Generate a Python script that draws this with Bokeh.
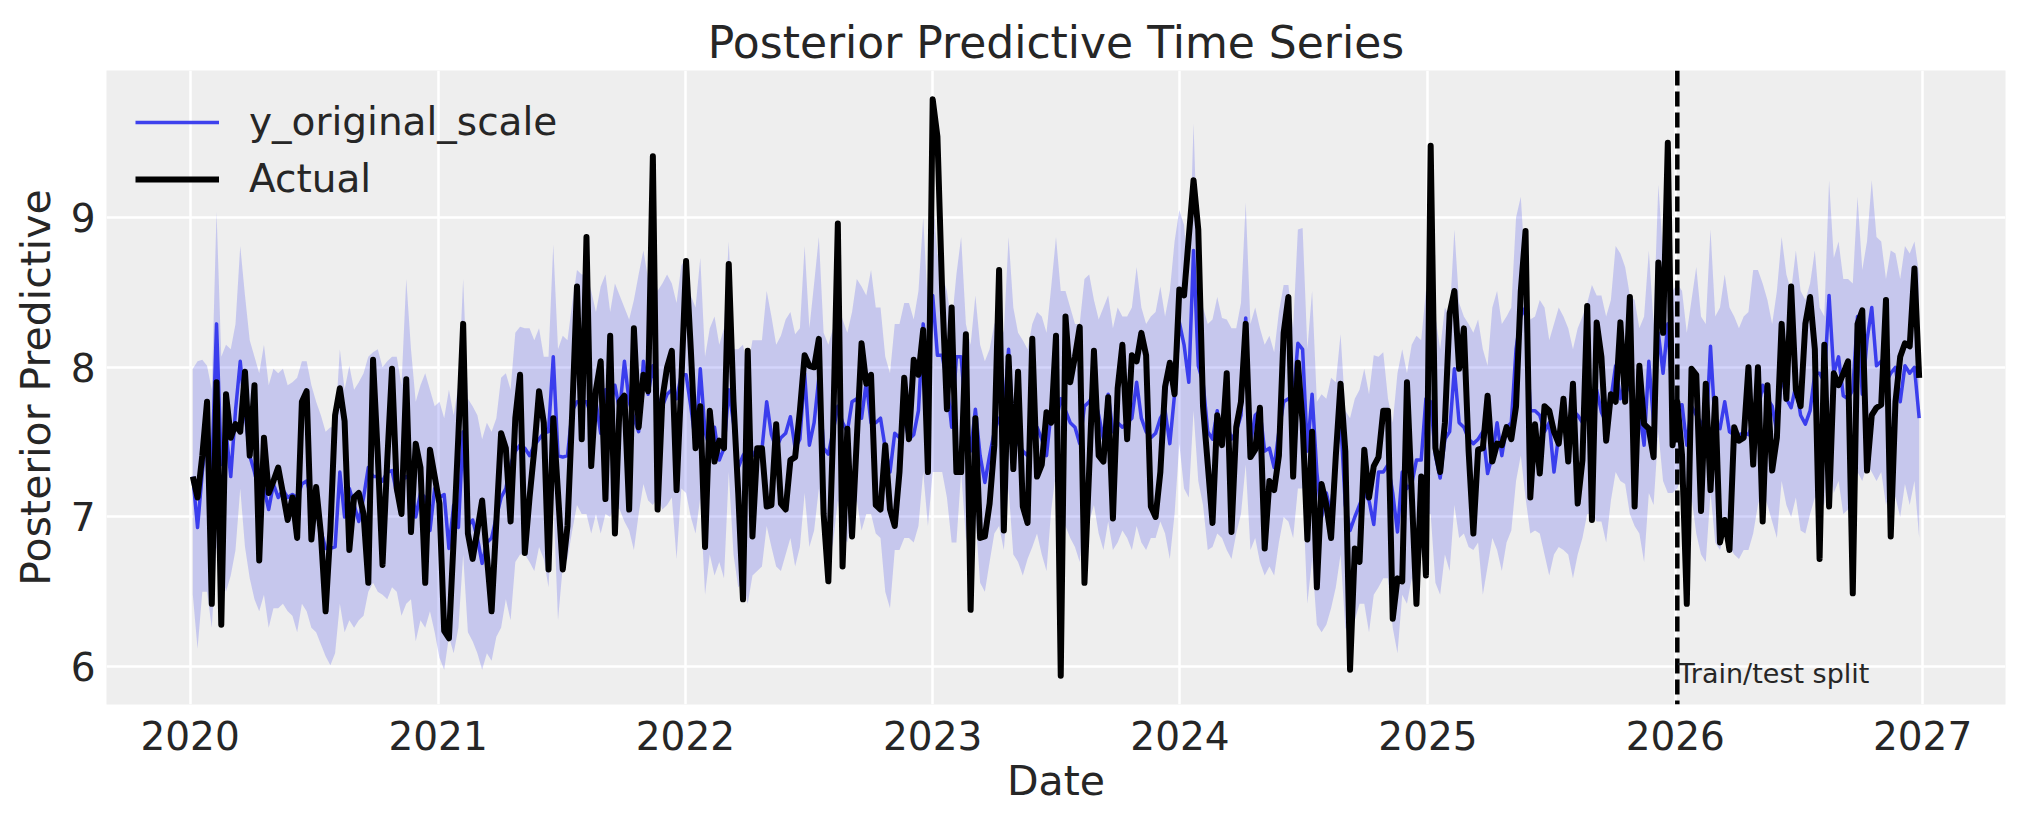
import pandas as pd
from bokeh.plotting import figure
from bokeh.models import (ColumnDataSource, Range1d, FixedTicker, DatetimeTickFormatter,
                          Span, Label, Legend, LegendItem)
from bokeh.embed import file_html
from bokeh.resources import INLINE

# ---------------- data ----------------
start_date = "2020-01-05"          # weekly observations (Sundays)
split_date = "2026-01-04"          # train / test split
year_ticks = [2020, 2021, 2022, 2023, 2024, 2025, 2026, 2027]
y_ticks = [6, 7, 8, 9]

actual = [
    # 2020
    7.27, 7.13, 7.41, 7.77, 6.42, 7.90, 6.28, 7.82, 7.53, 7.62, 7.57, 7.97, 7.41, 7.88, 6.71, 7.53, 7.16, 7.24,
    7.33, 7.16, 6.98, 7.13, 6.86, 7.77, 7.84, 6.85, 7.20, 6.89, 6.37, 6.91, 7.68, 7.86, 7.64, 6.78, 7.13, 7.16,
    7.02, 6.56, 8.05, 7.41, 6.68, 7.38, 7.99, 7.19, 7.02, 7.92, 6.90, 7.49, 7.33, 6.56, 7.45, 7.27,
    # 2021
    7.09, 6.24, 6.19, 6.85, 7.55, 8.29, 6.89, 6.72, 6.91, 7.11, 6.74, 6.37, 6.97, 7.56, 7.46, 6.97, 7.66, 7.95,
    6.76, 7.13, 7.45, 7.84, 7.63, 6.65, 7.66, 7.16, 6.65, 6.94, 7.70, 8.54, 7.52, 8.87, 7.34, 7.85, 8.04, 7.12,
    8.21, 6.89, 7.77, 7.81, 7.05, 8.26, 7.60, 7.95, 7.84, 9.41, 7.05, 7.79, 8.00, 8.11, 7.18, 7.90,
    # 2022
    8.71, 8.12, 7.46, 7.74, 6.80, 7.71, 7.37, 7.51, 7.46, 8.69, 7.77, 7.16, 6.45, 8.11, 6.87, 7.46, 7.46, 7.07,
    7.08, 7.62, 7.09, 7.05, 7.38, 7.40, 7.71, 8.08, 8.01, 8.00, 8.19, 7.02, 6.57, 7.57, 8.96, 6.67, 7.59, 6.87,
    7.52, 8.16, 7.89, 7.95, 7.08, 7.05, 7.48, 7.05, 6.94, 7.30, 7.93, 7.52, 8.05, 7.95, 8.25, 7.30,
    # 2023
    9.79, 9.54, 8.50, 7.72, 8.40, 7.30, 7.30, 8.22, 6.38, 7.66, 6.86, 6.87, 7.09, 7.48, 8.65, 6.91, 8.07, 7.32,
    7.97, 7.07, 6.96, 8.19, 7.27, 7.35, 7.70, 7.63, 8.21, 5.94, 8.34, 7.90, 8.07, 8.27, 6.56, 7.32, 8.11, 7.41,
    7.37, 7.80, 6.99, 7.86, 8.15, 7.52, 8.08, 8.04, 8.23, 8.08, 7.07, 7.00, 7.30, 7.87, 8.03, 7.82, 8.52,
    # 2024
    8.48, 8.87, 9.25, 8.92, 7.74, 7.35, 6.96, 7.68, 7.48, 7.96, 6.90, 7.60, 7.77, 8.29, 7.40, 7.45, 7.73, 6.79,
    7.24, 7.18, 7.41, 8.23, 8.47, 7.27, 8.03, 7.63, 6.85, 7.57, 6.53, 7.22, 7.08, 6.86, 7.41, 7.89, 7.44, 5.98,
    6.79, 6.70, 7.45, 7.13, 7.34, 7.40, 7.71, 7.71, 6.32, 6.59, 6.57, 7.90, 7.16, 6.42, 7.27, 6.61,
    # 2025
    9.48, 7.46, 7.30, 7.63, 8.36, 8.51, 7.99, 8.26, 7.44, 6.89, 7.45, 7.46, 7.81, 7.37, 7.49, 7.48, 7.60, 7.52,
    7.74, 8.51, 8.91, 7.13, 7.62, 7.29, 7.74, 7.71, 7.57, 7.49, 7.79, 7.37, 7.89, 7.09, 7.38, 8.41, 6.98, 8.30,
    8.07, 7.51, 7.82, 7.77, 8.30, 7.77, 8.47, 7.07, 8.01, 7.62, 7.59, 7.40, 8.70, 8.23, 9.50, 7.48,
    # 2026
    7.77, 7.41, 6.42, 7.99, 7.95, 7.04, 7.89, 7.18, 7.79, 6.83, 6.98, 6.78, 7.60, 7.51, 7.53, 8.00, 7.35, 8.00,
    6.97, 7.88, 7.31, 7.53, 8.29, 7.79, 8.54, 7.85, 7.74, 8.29, 8.47, 8.12, 6.72, 8.15, 7.07, 7.96, 7.88, 7.96,
    8.04, 6.49, 8.29, 8.38, 7.31, 7.68, 7.73, 7.75, 8.45, 6.87, 7.77, 8.07, 8.16, 8.14, 8.66, 7.93,
]

pred_mean = [
    # 2020
    7.27, 6.93, 7.30, 7.57, 7.30, 8.29, 7.35, 7.57, 7.27, 7.71, 8.04, 7.71, 7.41, 7.30, 7.16, 7.19, 7.05, 7.22,
    7.13, 7.18, 7.13, 7.15, 7.13, 7.22, 7.24, 7.13, 7.05, 6.91, 6.79, 6.79, 6.80, 7.30, 7.00, 7.19, 7.08, 6.97,
    7.13, 7.33, 7.27, 7.27, 7.24, 7.30, 7.31, 7.16, 7.24, 7.27, 7.24, 7.00, 7.16, 7.13, 6.91, 7.19,
    # 2021
    7.13, 7.15, 6.79, 7.08, 6.93, 7.57, 6.94, 6.98, 6.86, 6.69, 6.83, 6.86, 7.00, 7.13, 7.19, 7.35, 7.44, 7.48,
    7.46, 7.41, 7.48, 7.52, 7.56, 7.57, 8.07, 7.41, 7.40, 7.41, 7.71, 7.77, 7.77, 7.77, 7.68, 7.77, 7.56, 7.85,
    7.74, 7.88, 7.71, 8.04, 7.77, 7.66, 7.57, 8.04, 7.82, 8.01, 7.79, 7.74, 7.82, 7.85, 7.79, 7.95,
    # 2022
    7.95, 7.74, 7.49, 7.99, 7.57, 7.46, 7.60, 7.38, 7.46, 7.85, 7.63, 7.33, 7.41, 7.46, 7.41, 7.46, 7.45, 7.77,
    7.55, 7.46, 7.53, 7.56, 7.67, 7.46, 7.52, 7.96, 7.48, 7.63, 7.93, 7.46, 7.42, 7.57, 7.74, 7.63, 7.57, 7.77,
    7.79, 7.66, 7.90, 7.63, 7.63, 7.66, 7.46, 7.30, 7.56, 7.53, 7.66, 7.52, 7.55, 7.71, 8.29, 7.90,
    # 2023
    8.48, 8.08, 8.08, 7.90, 7.60, 8.07, 8.07, 7.66, 7.44, 7.72, 7.41, 7.23, 7.41, 7.57, 7.66, 7.68, 8.12, 7.57,
    7.49, 7.44, 7.41, 7.57, 7.60, 7.52, 7.41, 7.71, 7.63, 7.79, 7.71, 7.63, 7.60, 7.49, 7.74, 7.77, 7.82, 7.68,
    7.52, 7.82, 7.57, 7.63, 7.60, 7.63, 7.66, 7.90, 7.66, 7.57, 7.53, 7.56, 7.66, 7.71, 7.49, 7.82, 8.30,
    # 2024
    8.15, 7.90, 8.78, 8.01, 7.90, 7.57, 7.52, 7.71, 7.49, 7.63, 7.52, 7.57, 7.68, 8.33, 7.49, 7.68, 7.71, 7.44,
    7.46, 7.33, 7.57, 7.77, 7.79, 7.77, 8.16, 8.12, 7.44, 7.82, 7.30, 7.00, 7.16, 7.02, 7.41, 7.66, 7.08, 6.91,
    7.00, 7.08, 7.16, 7.11, 6.95, 7.30, 7.30, 7.35, 7.16, 6.90, 7.30, 7.19, 7.22, 7.38, 7.38, 7.79,
    # 2025
    7.77, 7.41, 7.26, 7.52, 7.57, 7.99, 7.63, 7.60, 7.52, 7.49, 7.52, 7.57, 7.29, 7.41, 7.63, 7.41, 7.60, 7.63,
    8.12, 8.34, 8.40, 7.71, 7.71, 7.68, 7.57, 7.63, 7.30, 7.55, 7.63, 7.63, 7.71, 7.68, 7.63, 7.66, 7.79, 7.85,
    7.70, 7.63, 7.79, 8.01, 7.79, 7.90, 7.85, 7.77, 7.71, 7.48, 8.04, 7.63, 8.23, 7.96, 8.29, 7.77,
    # 2026
    7.74, 7.75, 7.48, 7.74, 7.68, 7.63, 7.52, 8.14, 7.60, 7.59, 7.77, 7.57, 7.55, 7.55, 7.56, 7.55, 7.63, 7.71,
    7.88, 7.79, 7.74, 7.57, 7.96, 7.79, 7.73, 7.88, 7.68, 7.62, 7.71, 7.96, 7.96, 7.90, 8.48, 7.96, 8.07, 7.81,
    7.79, 7.85, 8.34, 7.82, 8.18, 8.40, 8.01, 8.04, 7.90, 7.96, 8.00, 7.77, 8.01, 7.96, 8.00, 7.66,
]

hdi_high = [
    # 2020
    7.99, 8.04, 8.05, 8.01, 7.85, 9.04, 8.07, 8.15, 8.12, 8.29, 8.81, 8.48, 8.18, 8.07, 7.96, 8.15, 7.88, 7.99,
    7.96, 7.99, 7.88, 7.90, 7.93, 8.04, 8.04, 7.88, 7.77, 7.68, 7.57, 7.60, 7.60, 8.12, 7.85, 8.01, 7.85, 7.90,
    7.96, 8.07, 8.10, 8.12, 8.00, 8.04, 8.07, 8.07, 7.88, 8.59, 8.12, 7.77, 7.88, 7.96, 7.85, 7.74,
    # 2021
    7.77, 7.66, 7.85, 7.68, 7.88, 8.59, 7.79, 7.74, 7.68, 7.52, 7.63, 7.57, 7.66, 7.93, 7.96, 7.85, 8.23, 8.27,
    8.26, 8.26, 8.18, 8.26, 8.07, 8.07, 8.82, 8.12, 8.21, 8.18, 8.43, 8.65, 8.62, 8.62, 8.51, 8.37, 8.54, 8.62,
    8.37, 8.56, 8.48, 8.40, 8.32, 8.45, 8.62, 8.78, 8.59, 8.70, 8.51, 8.56, 8.62, 8.56, 8.43, 8.68,
    # 2022
    8.73, 8.48, 8.40, 8.73, 8.07, 8.26, 8.34, 8.15, 8.26, 8.84, 8.12, 8.12, 8.15, 7.99, 8.18, 8.18, 8.18, 8.51,
    8.34, 8.15, 8.21, 8.32, 8.37, 8.22, 8.26, 8.81, 8.26, 8.56, 8.87, 8.23, 8.15, 8.26, 8.43, 8.32, 8.23, 8.37,
    8.59, 8.54, 8.48, 8.65, 8.40, 8.40, 8.07, 7.96, 8.29, 8.29, 8.43, 8.43, 8.32, 8.51, 9.00, 8.40,
    # 2023
    9.14, 8.76, 8.62, 8.51, 8.29, 8.62, 8.87, 8.29, 8.15, 8.48, 8.15, 8.04, 8.12, 8.29, 8.34, 8.23, 8.87, 8.40,
    8.23, 8.18, 8.12, 8.29, 8.37, 8.34, 8.23, 8.54, 8.87, 8.51, 8.51, 8.40, 8.29, 8.29, 8.59, 8.62, 8.45, 8.32,
    8.40, 8.48, 8.26, 8.40, 8.34, 8.34, 8.40, 8.67, 8.40, 8.29, 8.34, 8.37, 8.54, 8.34, 8.51, 8.84, 9.05,
    # 2024
    8.95, 8.56, 9.63, 8.62, 8.40, 8.29, 8.32, 8.47, 8.33, 8.32, 8.26, 8.26, 8.43, 9.10, 8.29, 8.40, 8.26, 8.15,
    8.21, 8.10, 8.37, 8.55, 8.55, 8.26, 8.92, 8.93, 8.12, 8.51, 7.77, 7.82, 7.79, 7.93, 7.90, 8.22, 7.71, 7.66,
    7.79, 7.85, 7.99, 7.82, 8.08, 8.07, 8.10, 7.79, 7.63, 7.96, 8.12, 7.96, 8.15, 8.21, 8.18, 8.51,
    # 2025
    8.51, 8.34, 8.12, 8.40, 8.34, 8.92, 8.43, 8.34, 8.29, 8.23, 8.32, 8.12, 8.01, 8.40, 8.51, 8.29, 8.34, 8.40,
    9.00, 9.14, 8.62, 8.32, 8.34, 8.45, 8.40, 8.18, 8.29, 8.40, 8.34, 8.26, 8.12, 8.26, 8.34, 8.43, 8.55, 8.48,
    8.48, 8.34, 8.45, 8.81, 8.76, 8.67, 8.48, 8.45, 8.26, 8.34, 8.78, 8.29, 9.22, 8.76, 8.73, 8.51,
    # 2026
    8.56, 8.51, 8.23, 8.45, 8.67, 8.34, 8.29, 8.92, 8.34, 8.40, 8.62, 8.40, 8.34, 8.26, 8.34, 8.37, 8.65, 8.65,
    8.56, 8.45, 8.29, 8.51, 8.87, 8.62, 8.51, 8.78, 8.51, 8.45, 8.56, 8.78, 8.40, 8.34, 9.25, 8.73, 8.84, 8.59,
    8.59, 8.56, 9.14, 8.65, 8.84, 9.25, 8.87, 8.84, 8.59, 8.78, 8.76, 8.59, 8.81, 8.76, 8.84, 8.62,
]

hdi_low = [
    # 2020
    6.48, 6.12, 6.50, 6.50, 6.26, 6.80, 6.64, 6.50, 6.61, 6.78, 7.19, 6.80, 6.59, 6.45, 6.37, 6.48, 6.26, 6.39,
    6.39, 6.42, 6.37, 6.34, 6.23, 6.42, 6.37, 6.26, 6.23, 6.15, 6.07, 6.01, 6.09, 6.42, 6.23, 6.31, 6.26, 6.31,
    6.34, 6.50, 6.56, 6.50, 6.48, 6.45, 6.53, 6.50, 6.34, 6.42, 6.45, 6.17, 6.31, 6.26, 6.37, 6.23,
    # 2021
    6.06, 5.98, 6.20, 6.09, 6.26, 6.75, 6.23, 6.17, 6.09, 5.98, 6.09, 6.04, 6.20, 6.26, 6.45, 6.31, 6.70, 6.75,
    6.75, 6.70, 6.64, 6.80, 6.72, 6.53, 7.13, 6.31, 6.67, 6.72, 6.91, 7.08, 7.02, 7.02, 6.89, 7.02, 6.89, 7.02,
    7.00, 7.08, 7.05, 6.97, 6.91, 6.78, 7.02, 7.22, 7.11, 7.08, 7.13, 7.05, 7.08, 7.13, 6.72, 7.19,
    # 2022
    7.16, 7.00, 6.89, 7.13, 6.48, 6.75, 6.61, 6.70, 6.59, 7.30, 6.75, 6.53, 6.56, 6.42, 6.61, 6.64, 6.67, 6.94,
    6.80, 6.67, 6.64, 6.75, 6.86, 6.67, 6.80, 7.16, 6.80, 6.91, 7.19, 6.80, 6.70, 6.83, 7.11, 6.89, 6.83, 7.02,
    7.11, 6.91, 7.02, 7.02, 6.89, 6.86, 6.50, 6.39, 6.78, 6.78, 6.86, 6.86, 6.83, 6.94, 7.30, 6.94,
    # 2023
    7.30, 7.30, 7.30, 7.13, 6.83, 6.83, 7.30, 6.86, 6.75, 7.00, 6.56, 6.50, 6.70, 6.89, 6.94, 6.78, 7.19, 6.75,
    6.70, 6.61, 6.72, 6.80, 6.89, 6.75, 6.64, 7.05, 7.30, 6.97, 6.94, 6.86, 6.80, 6.70, 7.05, 6.97, 7.08, 6.89,
    6.78, 6.97, 6.78, 6.83, 6.91, 6.86, 6.78, 6.94, 6.83, 6.78, 6.86, 6.86, 6.97, 6.89, 6.72, 7.02, 7.49,
    # 2024
    7.19, 7.13, 7.71, 7.24, 7.08, 6.78, 6.80, 6.89, 6.86, 6.78, 6.72, 6.89, 7.02, 7.35, 6.78, 6.86, 6.70, 6.61,
    6.67, 6.61, 6.83, 7.00, 6.97, 6.86, 7.19, 7.19, 6.42, 6.72, 6.28, 6.23, 6.28, 6.39, 6.53, 6.75, 6.26, 6.20,
    6.31, 6.42, 6.42, 6.23, 6.48, 6.53, 6.59, 6.59, 6.26, 6.09, 6.48, 6.42, 6.59, 6.48, 6.75, 7.02,
    # 2025
    7.02, 6.56, 6.48, 6.75, 6.64, 7.08, 6.86, 6.89, 6.80, 6.78, 6.83, 6.48, 6.67, 6.86, 6.78, 6.64, 6.83, 6.91,
    7.24, 7.41, 7.13, 6.89, 6.91, 6.89, 6.75, 6.61, 6.75, 6.80, 6.78, 6.75, 6.59, 6.75, 6.86, 7.02, 7.02, 6.97,
    6.97, 6.83, 7.11, 7.30, 7.24, 7.22, 7.02, 6.94, 6.89, 6.70, 7.16, 7.08, 7.57, 7.24, 7.16, 7.16,
    # 2026
    7.19, 7.30, 7.08, 7.13, 6.89, 6.75, 6.70, 7.16, 6.83, 6.78, 6.89, 6.80, 6.75, 6.72, 6.78, 6.78, 6.89, 7.08,
    7.19, 7.08, 6.97, 6.86, 7.24, 7.08, 7.00, 7.13, 6.91, 6.89, 7.02, 7.13, 7.11, 7.08, 7.41, 7.16, 7.24, 7.02,
    7.05, 7.00, 7.30, 7.24, 7.35, 7.30, 7.24, 7.30, 7.08, 7.19, 7.13, 7.00, 7.22, 7.08, 7.24, 6.86,
]

# ---------------- figure ----------------
FONT = "DejaVu Sans"
TEXT = "#262626"
C0 = "#2a2eec"

dates = pd.date_range(start_date, periods=len(actual), freq="7D")
src = ColumnDataSource(dict(date=dates, actual=actual, mean=pred_mean, low=hdi_low, high=hdi_high))

span = dates[-1] - dates[0]
x0 = (dates[0] - span * 0.05).to_pydatetime()
x1 = (dates[-1] + span * 0.05).to_pydatetime()
lo = min(min(actual), min(hdi_low))
hi = max(max(actual), max(hdi_high))
pad = (hi - lo) * 0.05

p = figure(width=2020, height=820, x_axis_type="datetime",
           output_backend="svg", toolbar_location=None,
           x_range=Range1d(x0, x1), y_range=Range1d(lo - pad, hi + pad),
           min_border_left=106, min_border_right=15, min_border_top=70, min_border_bottom=116,
           background_fill_color="#eeeeee", border_fill_color="white",
           outline_line_color=None, title="Posterior Predictive Time Series")

p.title.text_font = FONT
p.title.text_font_size = "44px"
p.title.text_font_style = "normal"
p.title.text_color = TEXT
p.title.align = "center"
p.title.standoff = 5

# band, mean, actual
p.varea(x="date", y1="low", y2="high", source=src, fill_color=C0, fill_alpha=0.2)
r_mean = p.line("date", "mean", source=src, line_color=C0, line_width=3.5, line_alpha=0.9,
                line_join="round")
r_act = p.line("date", "actual", source=src, line_color="black", line_width=6, line_join="round")

split_ms = pd.Timestamp(split_date).timestamp() * 1000
p.add_layout(Span(location=split_ms, dimension="height", line_color="black",
                  line_width=4.5, line_dash="15 6"))
p.add_layout(Label(x=split_ms, y=lo - pad, y_offset=31, text="Train/test split", x_offset=1,
                   text_font=FONT, text_font_size="27px", text_color=TEXT,
                   text_baseline="alphabetic"))

# axes
tick_ms = [pd.Timestamp(f"{y}-01-01").timestamp() * 1000 for y in year_ticks]
p.xaxis.ticker = FixedTicker(ticks=tick_ms)
p.xaxis.formatter = DatetimeTickFormatter(years="%Y", months="%Y", days="%Y")
p.yaxis.ticker = FixedTicker(ticks=y_ticks)
p.xaxis.axis_label = "Date"
p.yaxis.axis_label = "Posterior Predictive"

for ax in (p.xaxis[0], p.yaxis[0]):
    ax.axis_line_color = None
    ax.major_tick_line_color = None
    ax.minor_tick_line_color = None
    ax.major_tick_out = 0
    ax.major_tick_in = 0
    ax.minor_tick_out = 0
    ax.major_label_text_font = FONT
    ax.major_label_text_font_size = "39px"
    ax.major_label_text_color = TEXT
    ax.axis_label_text_font = FONT
    ax.axis_label_text_font_size = "41px"
    ax.axis_label_text_font_style = "normal"
    ax.axis_label_text_color = TEXT

p.xaxis.major_label_standoff = 16
p.xaxis.axis_label_standoff = 4
p.yaxis.major_label_standoff = 11
p.yaxis.axis_label_standoff = 8

p.grid.grid_line_color = "white"
p.grid.grid_line_width = 2.5

legend = Legend(items=[LegendItem(label="y_original_scale", renderers=[r_mean]),
                       LegendItem(label="Actual", renderers=[r_act])],
                location="top_left", margin=14, padding=15, spacing=12,
                glyph_width=84, glyph_height=40, label_height=40, label_standoff=30,
                label_text_font=FONT, label_text_font_size="39px", label_text_color=TEXT,
                background_fill_alpha=0, border_line_alpha=0)
p.add_layout(legend)

open("out.html", "w").write(file_html(p, INLINE, title="Posterior Predictive Time Series"))
